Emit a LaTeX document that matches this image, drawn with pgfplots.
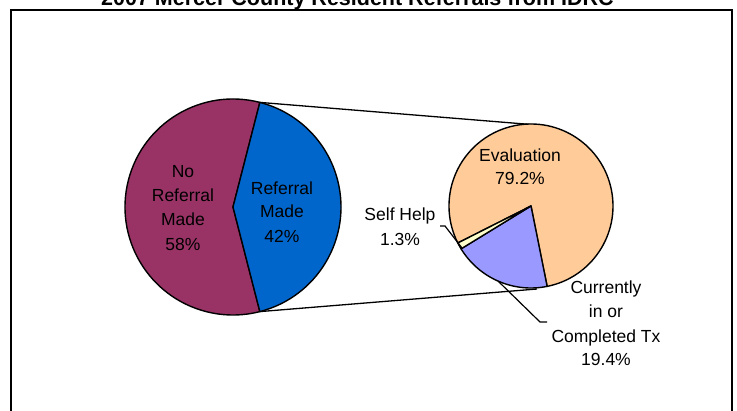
\documentclass[border=0pt]{standalone}
\usepackage{pgfplots}
\usepackage{pgfplotstable}
\pgfplotsset{compat=1.18}
\usepackage{fontspec}
\setmainfont{Liberation Sans}
\definecolor{plum}{HTML}{993366}
\definecolor{refblue}{HTML}{0066CC}
\definecolor{evalc}{HTML}{FFCC99}
\definecolor{curc}{HTML}{9999FF}
\definecolor{selfc}{HTML}{FFFFCC}

\pgfplotstableread{
label pct
NoReferral 58
Referral 42
}\firstpie
\pgfplotstableread{
label pct
Current 19.4
SelfHelp 1.3
Evaluation 79.2
}\secondpie

\pgfplotstablegetelem{1}{pct}\of\firstpie \let\refpct\pgfplotsretval
\pgfplotstablegetelem{0}{pct}\of\secondpie \let\curpct\pgfplotsretval
\pgfplotstablegetelem{1}{pct}\of\secondpie \let\selfpct\pgfplotsretval
\pgfmathsetmacro\ha{\refpct*1.8}
\pgfmathsetmacro\hb{360-\ha}
\pgfmathsetmacro\mha{-\ha}
\def\bstart{211.5}
\pgfmathsetmacro\bend{\bstart+\curpct*3.6}
\pgfmathsetmacro\sstart{\bstart-\selfpct*3.6}
\pgfmathsetmacro\eend{\sstart+360}
\pgfmathsetmacro\topx{233+108*cos(\ha)}
\pgfmathsetmacro\topy{204+108*sin(\ha)}
\pgfmathsetmacro\boty{204-108*sin(\ha)}

\newcommand\lab{\fontsize{17.5bp}{21bp}\selectfont}

\begin{document}
\begin{tikzpicture}
\path[use as bounding box] (0,0) rectangle (737bp,411bp);
\clip (0,0) rectangle (737bp,411bp);
\begin{axis}[x=1bp,y=1bp,xmin=0,xmax=737,ymin=0,ymax=411,
  scale only axis,hide axis,clip=false,anchor=south west,at={(0,0)}]
% frame and title
\draw[line width=1.5bp] (axis cs:11,-20) -- (axis cs:11,401) -- (axis cs:732,401) -- (axis cs:732,-20);
\node[anchor=base,font=\fontsize{21.5bp}{26bp}\selectfont\bfseries] at (axis cs:357.5,405) {2007 Mercer County Resident Referrals from IDRC};
% connector lines
\draw[line width=1.3bp] (axis cs:\topx,\topy) -- (axis cs:537,286);
\draw[line width=1.3bp] (axis cs:\topx,\boty) -- (axis cs:537,122);
% first pie
\filldraw[fill=plum,draw=black,line width=1.4bp,line join=round] (axis cs:233,204) -- ++(\ha:108bp) arc[start angle=\ha,end angle=\hb,radius=108bp] -- cycle;
\filldraw[fill=refblue,draw=black,line width=1.4bp,line join=round] (axis cs:233,204) -- ++(\mha:108bp) arc[start angle=\mha,end angle=\ha,radius=108bp] -- cycle;
% second pie
\filldraw[fill=evalc,draw=black,line width=1.4bp,line join=round] (axis cs:531,205) -- ++(\bend:82bp) arc[start angle=\bend,end angle=\eend,radius=82bp] -- cycle;
\filldraw[fill=curc,draw=black,line width=1.4bp,line join=round] (axis cs:531,205) -- ++(\bstart:82bp) arc[start angle=\bstart,end angle=\bend,radius=82bp] -- cycle;
\filldraw[fill=selfc,draw=black,line width=1.4bp,line join=round] (axis cs:531,205) -- ++(\sstart:82bp) arc[start angle=\sstart,end angle=\bstart,radius=82bp] -- cycle;
% leader lines
\draw[line width=1.2bp] (axis cs:440,185) -- (axis cs:445,185) -- (axis cs:462,163);
\draw[line width=1.2bp] (axis cs:498,130) -- (axis cs:540,89) -- (axis cs:547,89);
% labels
\node[anchor=base,font=\lab] at (axis cs:183,234) {No};
\node[anchor=base,font=\lab] at (axis cs:183,209.5) {Referral};
\node[anchor=base,font=\lab] at (axis cs:183,186) {Made};
\node[anchor=base,font=\lab] at (axis cs:183,161) {58\%};
\node[anchor=base,font=\lab] at (axis cs:282,217) {Referral};
\node[anchor=base,font=\lab] at (axis cs:282,193.5) {Made};
\node[anchor=base,font=\lab] at (axis cs:282,168.5) {42\%};
\node[anchor=base,font=\lab] at (axis cs:400,191) {Self Help};
\node[anchor=base,font=\lab] at (axis cs:400,166) {1.3\%};
\node[anchor=base,font=\lab] at (axis cs:520,250) {Evaluation};
\node[anchor=base,font=\lab] at (axis cs:520,227) {79.2\%};
\node[anchor=base,font=\lab] at (axis cs:606,118) {Currently};
\node[anchor=base,font=\lab] at (axis cs:606,94) {in or};
\node[anchor=base,font=\lab] at (axis cs:606,69) {Completed Tx};
\node[anchor=base,font=\lab] at (axis cs:606,46) {19.4\%};
\end{axis}
\end{tikzpicture}
\end{document}
